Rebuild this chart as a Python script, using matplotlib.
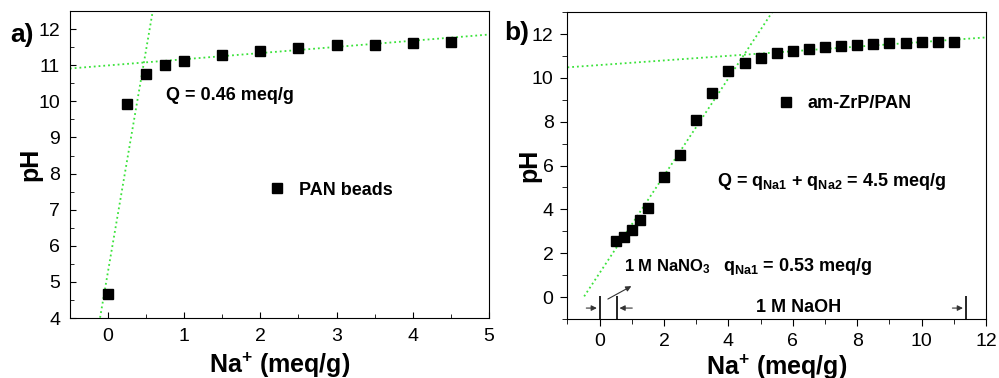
# titration curves of PAN beads and am-ZrP/PAN
import numpy as np
import matplotlib.pyplot as plt
from matplotlib.ticker import MultipleLocator

plt.rcParams['font.family'] = ['Liberation Sans', 'DejaVu Sans']
plt.rcParams['mathtext.default'] = 'regular'

# data: PAN beads
na_a = [0, 0.25, 0.5, 0.75, 1.0, 1.5, 2.0, 2.5, 3.0, 3.5, 4.0, 4.5]
ph_a = [4.67, 9.93, 10.75, 11.0, 11.12, 11.28, 11.4, 11.47, 11.55, 11.57, 11.62, 11.65]

# data: am-ZrP/PAN
na_b = [0.5, 0.75, 1.0, 1.25, 1.5, 2.0, 2.5, 3.0, 3.5, 4.0, 4.5, 5.0,
        5.5, 6.0, 6.5, 7.0, 7.5, 8.0, 8.5, 9.0, 9.5, 10.0, 10.5, 11.0]
ph_b = [2.58, 2.76, 3.04, 3.52, 4.05, 5.47, 6.48, 8.08, 9.32, 10.33, 10.68, 10.9,
        11.15, 11.24, 11.31, 11.42, 11.45, 11.5, 11.54, 11.59, 11.59, 11.62, 11.62, 11.65]

# linear fits (intercept, slope)
fit_a_flat = (10.995, 0.171)
fit_a_steep = (5.29, 12.28)
fit_b_flat = (10.585, 0.105)
fit_b_steep = (1.10, 2.22)

# NaNO3 / NaOH range markers in panel b
range_marks = [0, 0.53, 11.37]

green = '#3ae23a'
fs_tick = 14
fs_label = 18
fs_note = 13

fig = plt.figure(figsize=(9.99, 3.78), dpi=100)
ax1 = fig.add_axes([0.070, 0.1587, 0.4194, 0.812])
ax2 = fig.add_axes([0.568, 0.156, 0.419, 0.812])

# ---- panel a ----
xa = np.linspace(-0.5, 5, 200)
ax1.plot(xa, fit_a_flat[0] + fit_a_flat[1] * xa, ls=':', color=green, lw=1.3)
ax1.plot(xa, fit_a_steep[0] + fit_a_steep[1] * xa, ls=':', color=green, lw=1.3)
ax1.plot(na_a, ph_a, 's', color='black', ms=6.5, label='PAN beads')
ax1.set_xlim(-0.5, 5)
ax1.set_ylim(4, 12.5)
ax1.xaxis.set_major_locator(MultipleLocator(1))
ax1.xaxis.set_minor_locator(MultipleLocator(0.5))
ax1.yaxis.set_major_locator(MultipleLocator(1))
ax1.yaxis.set_minor_locator(MultipleLocator(0.5))
ax1.tick_params(which='both', direction='in', labelsize=fs_tick, pad=7)
ax1.tick_params(which='major', length=4.5)
ax1.tick_params(which='minor', length=3)
ax1.text(0.757, 10.05, 'Q = 0.46 meq/g', fontsize=fs_note, fontweight='bold')
ax1.legend(loc='center left', bbox_to_anchor=(0.472, 0.417), frameon=False,
           handlelength=1, handletextpad=0.74, borderpad=0, borderaxespad=0,
           prop={'size': fs_note, 'weight': 'bold'})
ax1.set_xlabel('Na$^{+}$ (meq/g)', fontsize=fs_label, fontweight='bold', labelpad=4)
ax1.set_ylabel('pH', fontsize=fs_label, fontweight='bold', labelpad=-3)

# ---- panel b ----
xb = np.linspace(-1, 12, 200)
ax2.plot(xb, fit_b_flat[0] + fit_b_flat[1] * xb, ls=':', color=green, lw=1.3)
xs = np.linspace(-0.48, 6, 200)
ax2.plot(xs, fit_b_steep[0] + fit_b_steep[1] * xs, ls=':', color=green, lw=1.3)
ax2.plot(na_b, ph_b, 's', color='black', ms=6.5, label='am-ZrP/PAN')
ax2.set_xlim(-1, 12)
ax2.set_ylim(-1, 13)
ax2.xaxis.set_major_locator(MultipleLocator(2))
ax2.xaxis.set_minor_locator(MultipleLocator(1))
ax2.yaxis.set_major_locator(MultipleLocator(2))
ax2.yaxis.set_minor_locator(MultipleLocator(1))
ax2.tick_params(which='both', direction='out', labelsize=fs_tick, pad=5)
ax2.tick_params(which='major', length=5)
ax2.tick_params(which='minor', length=3.5)

ax2.vlines(range_marks, -1, 0.05, color='black', lw=1.2)
arrow = dict(arrowstyle='-|>', color='#333333', lw=0.8, mutation_scale=8)
ax2.annotate('', xy=(range_marks[0], -0.5), xytext=(range_marks[0] - 0.5, -0.5), arrowprops=arrow)
ax2.annotate('', xy=(range_marks[1], -0.5), xytext=(range_marks[1] + 0.57, -0.5), arrowprops=arrow)
ax2.annotate('', xy=(range_marks[2], -0.5), xytext=(range_marks[2] - 0.5, -0.5), arrowprops=arrow)
ax2.annotate('', xy=(1.06, 0.56), xytext=(0.18, -0.15), arrowprops=arrow)

ax2.text(0.766, 1.18, '1 M NaNO$_{3}$', fontsize=12, fontweight='bold')
ax2.text(3.83, 1.18, 'q$_{Na1}$ = 0.53 meq/g', fontsize=fs_note, fontweight='bold')
ax2.text(4.87, -0.68, '1 M NaOH', fontsize=fs_note, fontweight='bold')
ax2.text(3.65, 5.06, 'Q = q$_{Na1}$ + q$_{Na2}$ = 4.5 meq/g', fontsize=fs_note, fontweight='bold')
ax2.legend(loc='center left', bbox_to_anchor=(0.5006, 0.701), frameon=False,
           handlelength=1, handletextpad=0.68, borderpad=0, borderaxespad=0,
           prop={'size': fs_note, 'weight': 'bold'})
ax2.set_xlabel('Na$^{+}$ (meq/g)', fontsize=fs_label, fontweight='bold', labelpad=2)
ax2.set_ylabel('pH', fontsize=fs_label, fontweight='bold', labelpad=-7)

# panel letters
fig.text(0.010, 0.907, 'a)', fontsize=19, fontweight='bold', va='center')
fig.text(0.505, 0.912, 'b)', fontsize=19, fontweight='bold', va='center')

fig.savefig('out.png', dpi=100)
